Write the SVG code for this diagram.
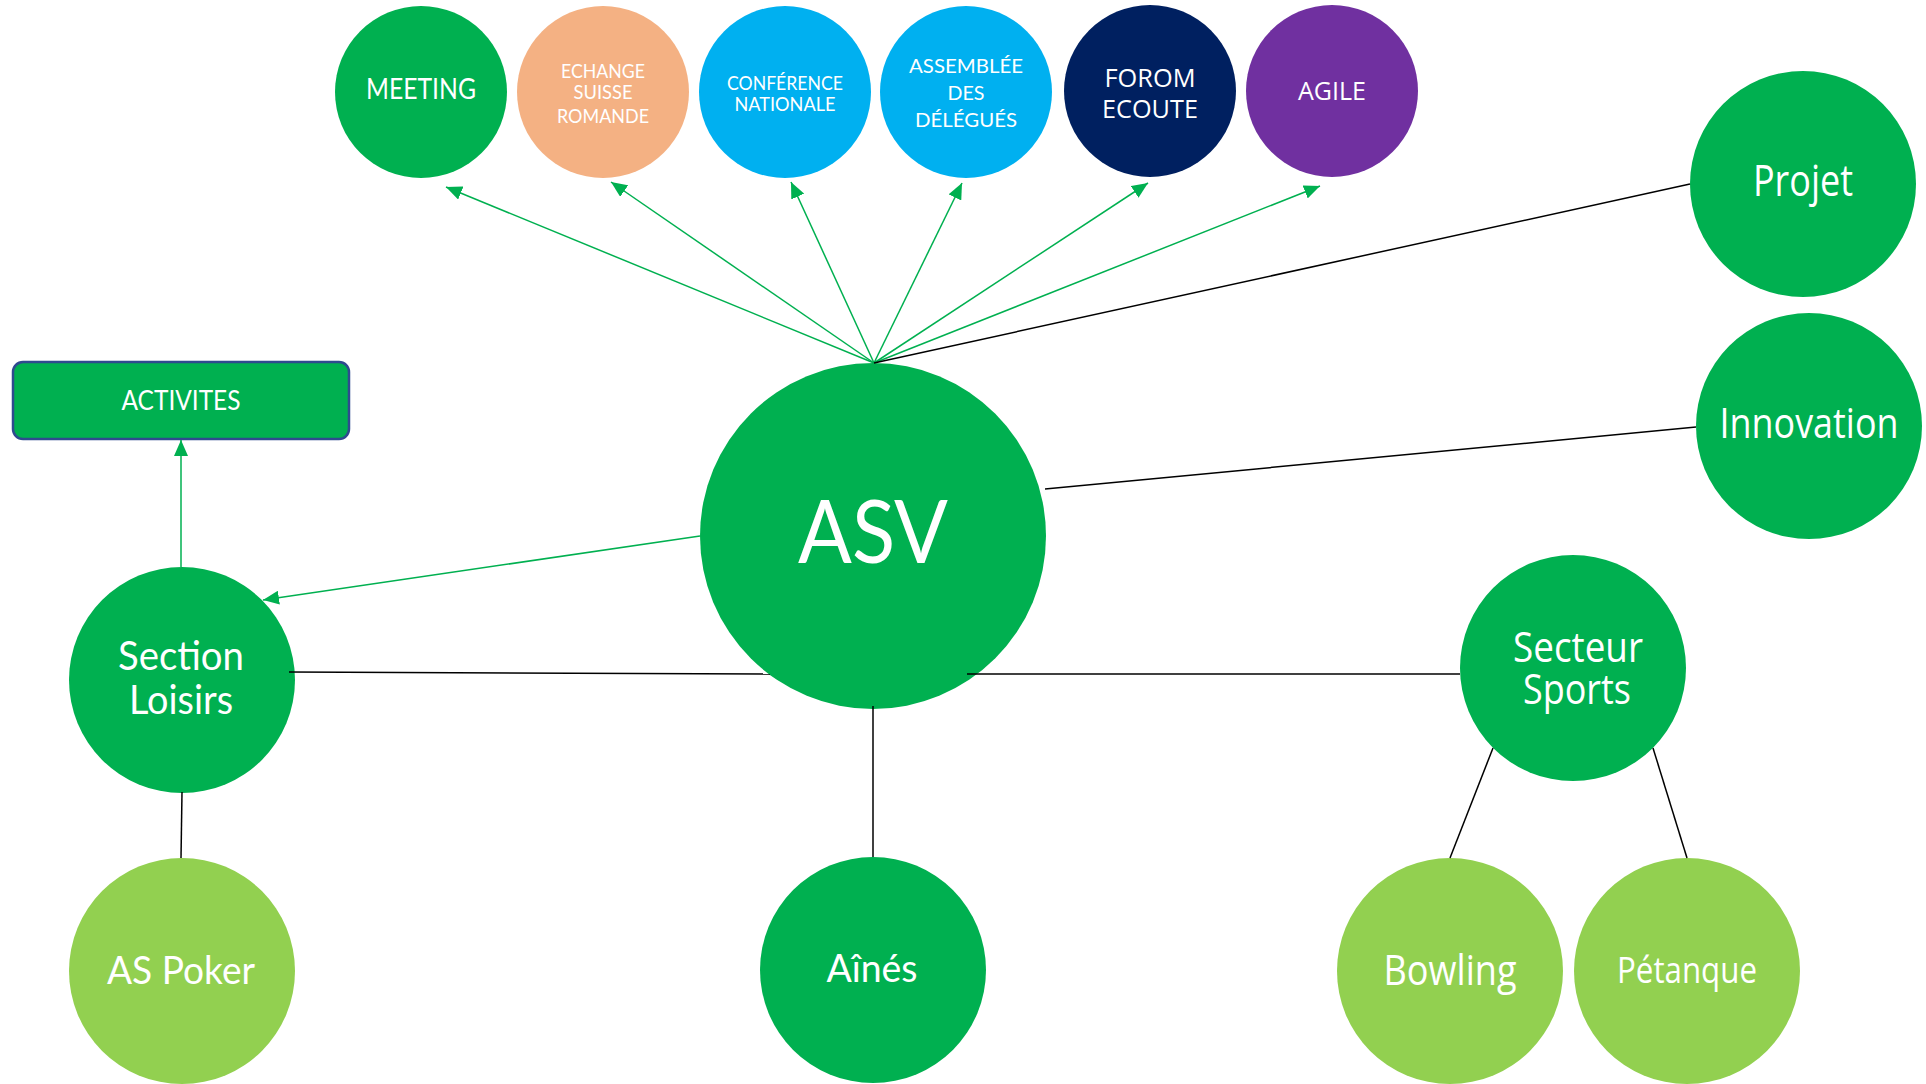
<svg xmlns="http://www.w3.org/2000/svg" width="1926" height="1084" viewBox="0 0 1926 1084">
<style>
.t{fill:#fff;text-anchor:middle;font-family:Lato,"Open Sans",sans-serif}
.s{fill:#fff;text-anchor:middle;font-family:"Open Sans","Noto Sans",sans-serif}
.g{stroke:#00B050;stroke-width:1.5;fill:none}
.k{stroke:#000;stroke-width:1.5;fill:none}
.dg{fill:#00B050}
.lg{fill:#92D050}
</style>
<defs>
<marker id="ah" markerUnits="userSpaceOnUse" markerWidth="16" markerHeight="14" refX="16" refY="7" orient="auto">
<path d="M0,0 L16,7 L0,14 z" fill="#00B050"/>
</marker>
</defs>
<g id="nodes">
<g id="meeting"><circle cx="421" cy="92" r="86" class="dg"/><text x="421" y="99" class="t" font-size="29" textLength="110" lengthAdjust="spacingAndGlyphs">MEETING</text></g>
<g id="echange"><circle cx="603" cy="92" r="86" fill="#F4B183"/>
<text x="603" y="78" class="t" font-size="20" textLength="84" lengthAdjust="spacingAndGlyphs">ECHANGE</text>
<text x="603" y="99" class="t" font-size="20" textLength="59" lengthAdjust="spacingAndGlyphs">SUISSE</text>
<text x="603" y="123" class="t" font-size="20" textLength="92" lengthAdjust="spacingAndGlyphs">ROMANDE</text></g>
<g id="conference"><circle cx="785" cy="92" r="86" fill="#00B0F0"/>
<text x="785" y="90" class="t" font-size="20" textLength="116" lengthAdjust="spacingAndGlyphs">CONFÉRENCE</text>
<text x="785" y="111" class="t" font-size="20" textLength="101" lengthAdjust="spacingAndGlyphs">NATIONALE</text></g>
<g id="assemblee"><circle cx="966" cy="92" r="86" fill="#00B0F0"/>
<text x="966" y="73" class="t" font-size="20" textLength="114" lengthAdjust="spacingAndGlyphs">ASSEMBLÉE</text>
<text x="966" y="100" class="t" font-size="20" textLength="37" lengthAdjust="spacingAndGlyphs">DES</text>
<text x="966" y="127" class="t" font-size="20" textLength="102" lengthAdjust="spacingAndGlyphs">DÉLÉGUÉS</text></g>
<g id="forom"><circle cx="1150" cy="91" r="86" fill="#002060"/>
<text x="1150" y="87" class="s" font-size="26" textLength="91" lengthAdjust="spacingAndGlyphs">FOROM</text>
<text x="1150" y="118" class="s" font-size="26" textLength="96" lengthAdjust="spacingAndGlyphs">ECOUTE</text></g>
<g id="agile"><circle cx="1332" cy="91" r="86" fill="#7030A0"/>
<text x="1332" y="100" class="s" font-size="26" textLength="68" lengthAdjust="spacingAndGlyphs">AGILE</text></g>
<g id="projet"><circle cx="1803" cy="184" r="113" class="dg"/>
<text x="1803" y="196" class="s" font-size="43" textLength="100" lengthAdjust="spacingAndGlyphs">Projet</text></g>
<g id="innovation"><circle cx="1809" cy="426" r="113" class="dg"/>
<text x="1809" y="438" class="s" font-size="42" textLength="179" lengthAdjust="spacingAndGlyphs">Innovation</text></g>
<g id="activites"><rect x="13" y="362" width="336" height="77" rx="10" fill="#00B050" stroke="#2F4A8F" stroke-width="2.5"/>
<text x="181" y="410" class="t" font-size="27" textLength="119" lengthAdjust="spacingAndGlyphs">ACTIVITES</text></g>
<g id="asv"><circle cx="873" cy="536" r="173" class="dg"/>
<text x="873" y="563" class="t" font-size="87" textLength="150" lengthAdjust="spacingAndGlyphs">ASV</text></g>
<g id="loisirs"><circle cx="182" cy="680" r="113" class="dg"/>
<text x="181" y="670" class="t" font-size="41" textLength="126" lengthAdjust="spacingAndGlyphs">Section</text>
<text x="181" y="714" class="t" font-size="41" textLength="104" lengthAdjust="spacingAndGlyphs">Loisirs</text></g>
<g id="sports"><circle cx="1573" cy="668" r="113" class="dg"/>
<text x="1578" y="662" class="s" font-size="42" textLength="130" lengthAdjust="spacingAndGlyphs">Secteur</text>
<text x="1577" y="704" class="s" font-size="42" textLength="108" lengthAdjust="spacingAndGlyphs">Sports</text></g>
<g id="poker"><circle cx="182" cy="971" r="113" class="lg"/>
<text x="181" y="984" class="t" font-size="39" textLength="148" lengthAdjust="spacingAndGlyphs">AS Poker</text></g>
<g id="aines"><circle cx="873" cy="970" r="113" class="dg"/>
<text x="872" y="982" class="t" font-size="39" textLength="91" lengthAdjust="spacingAndGlyphs">Aînés</text></g>
<g id="bowling"><circle cx="1450" cy="971" r="113" class="lg"/>
<text x="1450" y="985" class="s" font-size="42" textLength="133" lengthAdjust="spacingAndGlyphs">Bowling</text></g>
<g id="petanque"><circle cx="1687" cy="971" r="113" class="lg"/>
<text x="1687" y="983" class="s" font-size="37" textLength="140" lengthAdjust="spacingAndGlyphs">Pétanque</text></g>
</g>
<g id="connectors">
<line x1="874" y1="363" x2="446" y2="187" class="g" marker-end="url(#ah)"/>
<line x1="874" y1="363" x2="611" y2="182" class="g" marker-end="url(#ah)"/>
<line x1="874" y1="363" x2="791" y2="182" class="g" marker-end="url(#ah)"/>
<line x1="874" y1="363" x2="962" y2="183" class="g" marker-end="url(#ah)"/>
<line x1="874" y1="363" x2="1148" y2="183" class="g" marker-end="url(#ah)"/>
<line x1="874" y1="363" x2="1320" y2="186" class="g" marker-end="url(#ah)"/>
<line x1="700" y1="536" x2="263" y2="600" class="g" marker-end="url(#ah)"/>
<line x1="181" y1="567" x2="181" y2="440" class="g" marker-end="url(#ah)"/>
<line x1="874" y1="363" x2="1690" y2="184" class="k"/>
<line x1="1045" y1="489" x2="1696" y2="427" class="k"/>
<line x1="289" y1="672" x2="770" y2="674" class="k"/>
<line x1="967" y1="674" x2="1460" y2="674" class="k"/>
<line x1="873" y1="706" x2="873" y2="857" class="k"/>
<line x1="182" y1="792" x2="181" y2="858" class="k"/>
<line x1="1493" y1="748" x2="1450" y2="858" class="k"/>
<line x1="1653" y1="748" x2="1687" y2="858" class="k"/>
</g>
</svg>
